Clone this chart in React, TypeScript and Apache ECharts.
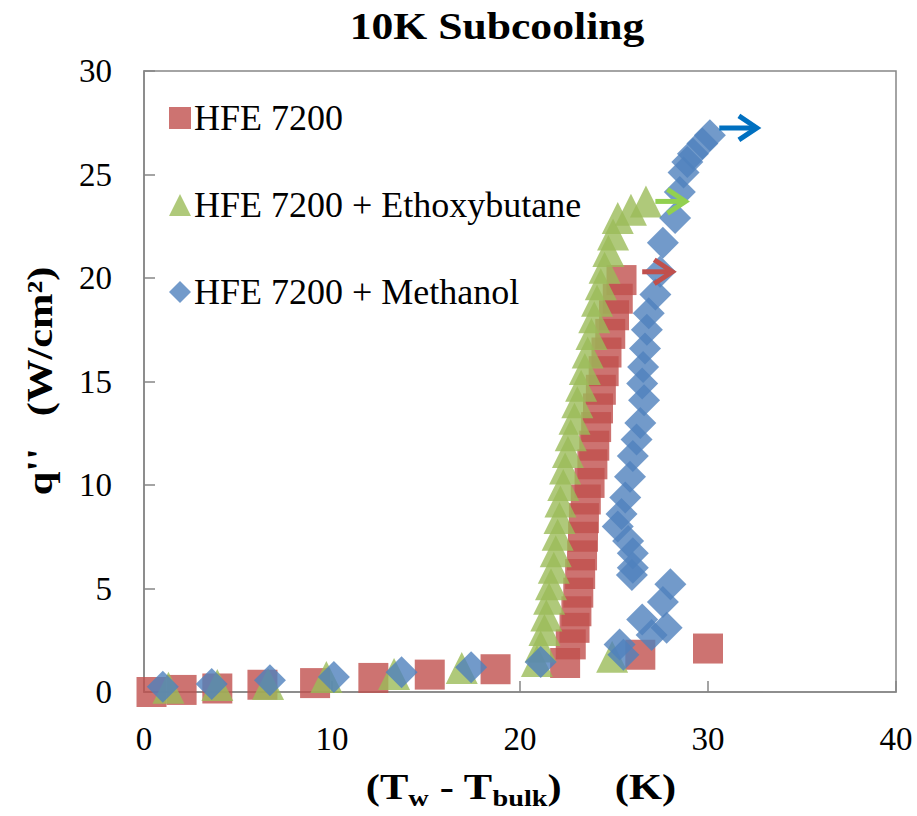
import React, { useEffect, useRef } from 'react';
import * as echarts from 'echarts';

const SERIES_NAMES = ['HFE 7200', 'HFE 7200 + Ethoxybutane', 'HFE 7200 + Methanol'];
const SERIES_COLORS = ['#C0504D', '#9BBB59', '#4F81BD'];

const hfeX = [0.4, 2.0, 3.9, 6.3, 9.1, 12.2, 15.2, 18.7, 22.4, 22.7, 22.9, 23.0, 23.1, 23.2, 23.3, 23.35, 23.4, 23.5, 23.7, 23.85, 23.95, 24.05, 24.15, 24.3, 24.45, 24.6, 24.8, 25.0, 25.2, 25.4, 26.4, 30.0];
const hfeY = [0, 0.1, 0.17, 0.35, 0.43, 0.68, 0.84, 1.1, 1.4, 2.3, 3.1, 3.9, 4.8, 5.7, 6.6, 7.5, 8.4, 9.3, 10.1, 11.0, 11.9, 12.8, 13.7, 14.6, 15.5, 16.4, 17.3, 18.2, 19.0, 19.9, 1.8, 2.1];

const ethX = [1.3, 3.9, 6.6, 9.7, 13.3, 16.9, 20.9, 21.1, 21.3, 21.4, 21.55, 21.65, 21.8, 21.9, 22.0, 22.1, 22.15, 22.3, 22.4, 22.55, 22.7, 22.9, 23.05, 23.25, 23.45, 23.6, 23.8, 23.95, 24.1, 24.3, 24.5, 24.7, 24.95, 25.2, 25.9, 26.7, 24.9];
const ethY = [0.2, 0.34, 0.39, 0.73, 0.87, 1.16, 1.5, 2.2, 3.0, 3.7, 4.5, 5.2, 6.0, 6.8, 7.6, 8.4, 9.2, 10.0, 10.8, 11.6, 12.4, 13.2, 14.0, 14.8, 15.6, 16.4, 17.3, 18.1, 18.9, 19.7, 20.5, 21.3, 22.1, 22.9, 23.3, 23.7, 1.7];

const methX = [1.0, 3.6, 6.7, 10.1, 13.7, 17.4, 21.1, 25.3, 25.5, 26.5, 27.0, 27.8, 27.6, 28.0, 25.95, 26.0, 26.0, 25.75, 25.2, 25.4, 25.6, 25.85, 26.0, 26.2, 26.4, 26.6, 26.5, 26.55, 26.65, 26.75, 26.85, 27.2, 27.45, 27.6, 28.25, 28.5, 28.7, 28.9, 29.2, 29.7, 30.1];
const methY = [0.25, 0.39, 0.57, 0.73, 0.96, 1.2, 1.45, 2.3, 1.8, 3.5, 2.75, 3.1, 4.35, 5.2, 5.65, 6.0, 6.7, 7.3, 8.0, 8.6, 9.4, 10.4, 11.4, 12.2, 13.0, 14.1, 14.9, 15.7, 16.6, 17.5, 18.3, 19.2, 20.3, 21.7, 22.9, 24.15, 25.1, 25.6, 26.0, 26.5, 26.9];

const arrowFromX = [26.5, 27.2, 30.6];
const arrowToX = [28.1, 28.8, 32.6];
const arrowY = [20.3, 23.7, 27.25];
const arrowColors = ['#C0504D', '#92D050', '#0070C0'];

const FONT = 'Liberation Serif';
const AXIS_COLOR = '#868686';

const zip = (xs: number[], ys: number[]) => xs.map((x, i) => [x, ys[i]]);

export default function App() {
  const ref = useRef<HTMLDivElement>(null);
  useEffect(() => {
    const chart = echarts.init(ref.current!, null, { renderer: 'svg' });
    const axisCommon = {
      axisLine: { show: true, lineStyle: { color: AXIS_COLOR, width: 1.5 } },
      axisTick: { show: true, inside: true, length: 11, lineStyle: { color: AXIS_COLOR, width: 1.5 } },
      splitLine: { show: false },
    };
    const option: any = {
      animation: false,
      backgroundColor: '#fff',
      textStyle: { fontFamily: FONT },
      grid: { left: 144, right: 21, top: 71, bottom: 124, show: true, borderColor: AXIS_COLOR, borderWidth: 1.5 },
      xAxis: {
        type: 'value', min: 0, max: 40, interval: 10, ...axisCommon,
        axisLabel: { fontFamily: FONT, fontSize: 33, color: '#000', margin: 30 },
      },
      yAxis: {
        type: 'value', min: 0, max: 30, interval: 5, ...axisCommon,
        axisLabel: { fontFamily: FONT, fontSize: 33, color: '#000', margin: 32 },
      },
      legend: {
        data: SERIES_NAMES,
        orient: 'vertical',
        left: 164,
        top: 95,
        itemWidth: 22,
        itemHeight: 22,
        itemGap: 51,
        textStyle: { fontFamily: FONT, fontSize: 36, color: '#000', padding: [0, 0, 0, -2] },
      },
      graphic: [
        {
          type: 'text', x: 497, y: 27, scaleX: 1.18,
          style: { text: '10K Subcooling', fontFamily: FONT, fontWeight: 'bold', fontSize: 37, fill: '#000', textAlign: 'center', textVerticalAlign: 'middle' },
        },
        {
          type: 'text', x: 521, y: 790, scaleX: 1.18,
          style: {
            text: '{n|(T}{s|w}{n| - T}{s|bulk}{n|)     (K)}',
            fill: '#000', textAlign: 'center', textVerticalAlign: 'middle',
            rich: {
              n: { fontFamily: FONT, fontWeight: 'bold', fontSize: 36, lineHeight: 36, verticalAlign: 'top', fill: '#000' },
              s: { fontFamily: FONT, fontWeight: 'bold', fontSize: 24, lineHeight: 41, verticalAlign: 'bottom', fill: '#000' },
            },
          },
        },
        {
          type: 'text', x: 40, y: 381, scaleX: 1.18, rotation: Math.PI / 2,
          style: { text: "q''   (W/cm²)", fontFamily: FONT, fontWeight: 'bold', fontSize: 36, fill: '#000', textAlign: 'center', textVerticalAlign: 'middle' },
        },
      ],
      series: [
        { name: SERIES_NAMES[0], type: 'scatter', symbol: 'rect', symbolSize: 30, itemStyle: { color: SERIES_COLORS[0] }, data: zip(hfeX, hfeY) },
        { name: SERIES_NAMES[1], type: 'scatter', symbol: 'triangle', symbolSize: 32, itemStyle: { color: SERIES_COLORS[1] }, data: zip(ethX, ethY) },
        { name: SERIES_NAMES[2], type: 'scatter', symbol: 'diamond', symbolSize: 32, itemStyle: { color: SERIES_COLORS[2] }, data: zip(methX, methY) },
        {
          name: 'arrows', type: 'custom', z: 5,
          data: arrowFromX.map((x, i) => [x, arrowToX[i], arrowY[i]]),
          encode: { x: [0, 1], y: 2 },
          renderItem: (params: any, api: any) => {
            const p0 = api.coord([api.value(0), api.value(2)]);
            const p1 = api.coord([api.value(1), api.value(2)]);
            const c = arrowColors[params.dataIndex];
            return {
              type: 'group',
              children: [
                { type: 'line', shape: { x1: p0[0], y1: p0[1], x2: p1[0] - 2, y2: p1[1] }, style: { stroke: c, lineWidth: 5 } },
                {
                  type: 'polyline',
                  shape: { points: [[p1[0] - 18, p1[1] - 12], [p1[0], p1[1]], [p1[0] - 18, p1[1] + 12]] },
                  style: { stroke: c, lineWidth: 5, fill: 'none', lineJoin: 'miter' },
                },
              ],
            };
          },
        },
      ],
    };
    chart.setOption(option);
    return () => chart.dispose();
  }, []);
  return <div ref={ref} style={{ position: 'absolute', left: 0, top: 0, width: 917, height: 816 }} />;
}
